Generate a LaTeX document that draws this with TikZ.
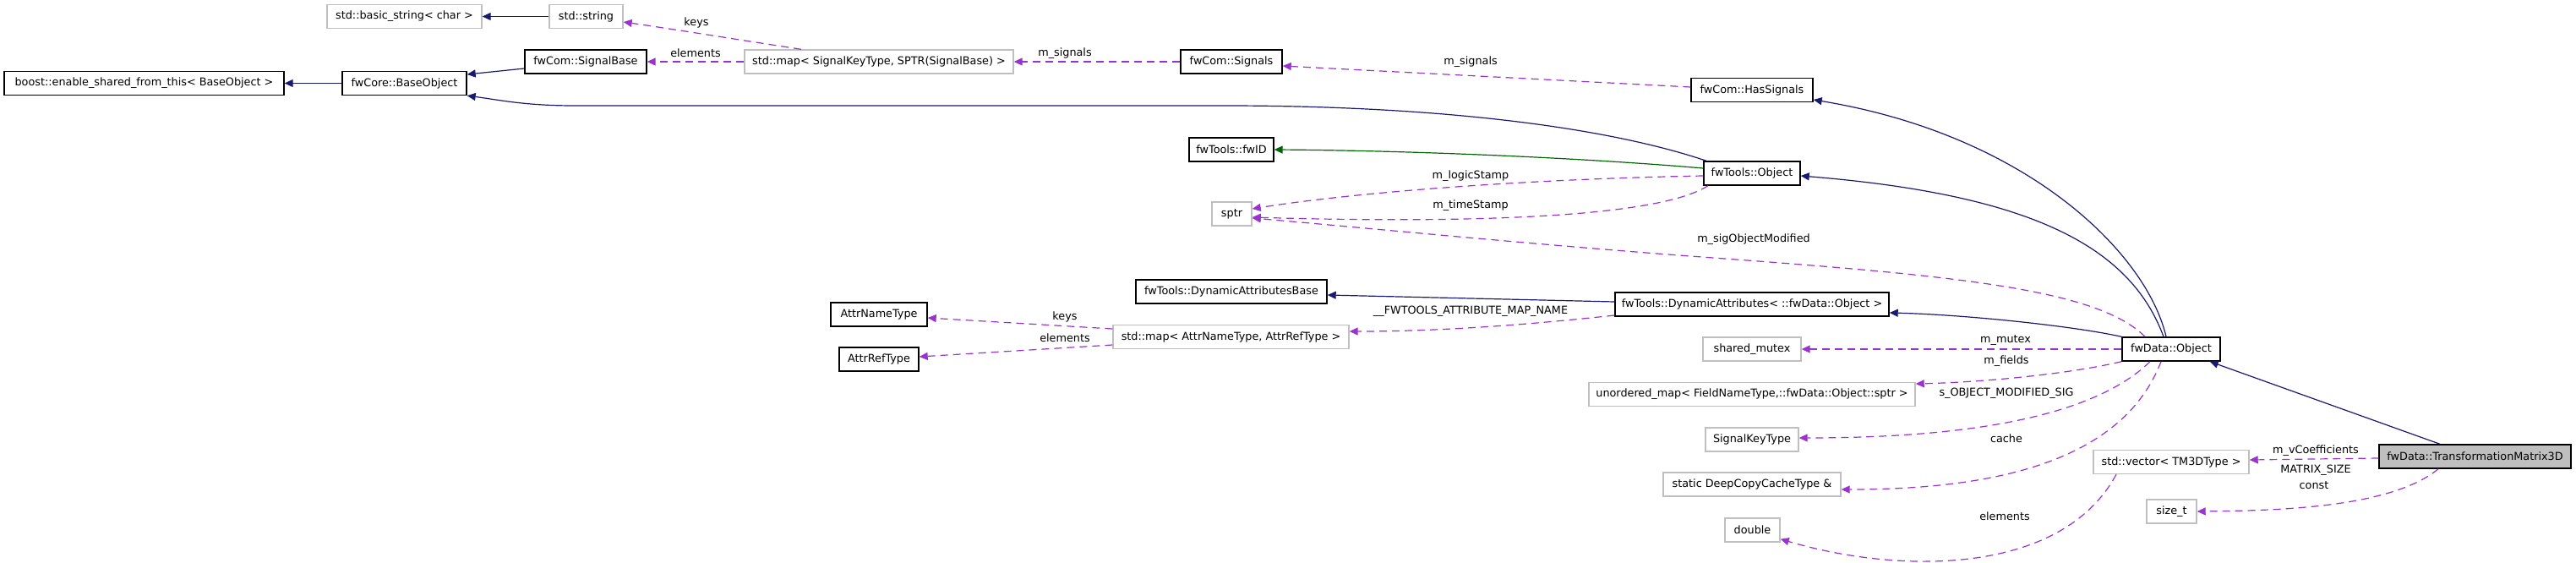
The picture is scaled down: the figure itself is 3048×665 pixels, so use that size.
\documentclass[tikz,border=0pt]{standalone}
\usepackage{fontspec}
\usetikzlibrary{arrows.meta}
\newfontfamily\dxsans{DejaVu Sans}
\newcommand\dxfont{\dxsans\fontsize{6.4}{7.5}\selectfont}
\definecolor{navy}{RGB}{25,25,112}
\definecolor{purp}{RGB}{154,50,205}
\definecolor{dgreen}{RGB}{0,100,0}
\definecolor{graybox}{RGB}{191,191,191}
\definecolor{tmgray}{RGB}{191,191,191}
\tikzset{
  nb/.style={draw=black, line width=0.7pt, fill=white, inner sep=0pt, minimum height=14pt, font=\dxfont},
  ng/.style={nb, draw=graybox},
  inh/.style={draw=navy, line width=0.6pt, -{Triangle[length=5pt,width=4.5pt]}},
  grn/.style={inh, draw=dgreen},
  use/.style={draw=purp, line width=0.6pt, dash pattern=on 4.5pt off 3pt, -{Triangle[length=5pt,width=4.5pt]}},
  lbl/.style={font=\dxfont, inner sep=0pt}
}
\begin{document}
\begin{tikzpicture}[x=0.5pt,y=-0.5pt]
\useasboundingbox (0,0) rectangle (3048,665);
% nodes
\node[ng, minimum width=91.5pt] (bstr) at (478.5,19.5) {std::basic\_string< char >};
\node[ng, minimum width=43.5pt] (str) at (693.5,19.5) {std::string};
\node[nb, minimum width=165.5pt] (boost) at (170.5,98.5) {boost::enable\_shared\_from\_this< BaseObject >};
\node[nb, minimum width=73.5pt] (baseobj) at (478.5,98.5) {fwCore::BaseObject};
\node[nb, minimum width=72pt] (sigbase) at (693,73) {fwCom::SignalBase};
\node[ng, minimum width=159pt] (mapsig) at (1040,73) {std::map< SignalKeyType, SPTR(SignalBase) >};
\node[nb, minimum width=60pt] (signals) at (1457,73) {fwCom::Signals};
\node[nb, minimum width=72pt] (hassig) at (2073,106.5) {fwCom::HasSignals};
\node[nb, minimum width=50pt] (fwid) at (1457,177) {fwTools::fwID};
\node[nb, minimum width=57pt] (object) at (2073,205) {fwTools::Object};
\node[ng, minimum width=23.5pt] (sptr) at (1457.5,253) {sptr};
\node[nb, minimum width=113pt] (dab) at (1457,345) {fwTools::DynamicAttributesBase};
\node[nb, minimum width=162pt] (da) at (2073,360) {fwTools::DynamicAttributes< ::fwData::Object >};
\node[nb, minimum width=57pt] (attrname) at (1040,372) {AttrNameType};
\node[nb, minimum width=47pt] (attrref) at (1040,425) {AttrRefType};
\node[ng, minimum width=139.5pt] (mapattr) at (1456.5,398.5) {std::map< AttrNameType, AttrRefType >};
\node[nb, minimum width=58pt] (fwdobj) at (2569,413) {fwData::Object};
\node[ng, minimum width=58pt] (smutex) at (2073,413) {shared\_mutex};
\node[ng, minimum width=193pt] (umap) at (2073,466.5) {unordered\_map< FieldNameType,::fwData::Object::sptr >};
\node[ng, minimum width=55pt] (sigkey) at (2073,520) {SignalKeyType};
\node[ng, minimum width=105pt] (dcc) at (2073,573) {static DeepCopyCacheType \&};
\node[ng, minimum width=32.5pt] (dbl) at (2073.5,627) {double};
\node[ng, minimum width=92pt] (vec) at (2569,546.5) {std::vector< TM3DType >};
\node[ng, minimum width=29.5pt] (sizet) at (2569.5,605) {size\_t};
\node[nb, fill=tmgray, minimum width=113.5pt] (tm3d) at (2928.5,540) {fwData::TransformationMatrix3D};
% inheritance
\draw[inh] (str) -- (bstr);
\draw[inh] (baseobj) -- (boost);
\draw[inh] ([yshift=-4pt]sigbase.west) -- ([yshift=5.25pt]baseobj.east);
\draw[inh] ([xshift=-27pt]object.north) .. controls (1900,150) and (1700,125) .. (1450,125) -- (680,125) .. controls (620,125) and (590,118) .. (baseobj.south east);
\draw[inh] ([xshift=-3pt]fwdobj.north) .. controls (2540,300) and (2400,160) .. ([yshift=-5.75pt]hassig.east);
\draw[inh] ([xshift=-4.5pt]fwdobj.north) .. controls (2520,290) and (2400,230) .. ([yshift=-1.5pt]object.east);
\draw[inh] (fwdobj.north west) .. controls (2450,385) and (2320,372) .. ([yshift=-5pt]da.east);
\draw[inh] ([yshift=1.5pt]da.west) -- ([yshift=-2pt]dab.east);
\draw[grn] ([yshift=3pt]object.west) .. controls (1850,185) and (1650,178) .. (fwid.east);
\draw[inh] ([xshift=-20.75pt]tm3d.north) -- ([xshift=-6.5pt]fwdobj.south east);
% usage
\draw[use] ([xshift=-46pt]mapsig.north) .. controls (880,48) and (800,35) .. ([yshift=-3.25pt]str.east);
\node[lbl] (lkeys1) at (824,27) {keys};
\draw[use] (mapsig) -- (sigbase);
\node[lbl] (lelem1) at (823,63) {elements};
\draw[use] (signals) -- (mapsig);
\node[lbl] (lsig1) at (1260,63) {m\_signals};
\draw[use] ([yshift=1.75pt]hassig.west) -- ([yshift=-2.5pt]signals.east);
\node[lbl] (lsig2) at (1740,73) {m\_signals};
\draw[use] ([yshift=-1.5pt]object.west) .. controls (1800,212) and (1600,228) .. ([yshift=3pt]sptr.east);
\node[lbl] (llogic) at (1740,208) {m\_logicStamp};
\draw[use] ([xshift=-26pt]object.south) .. controls (1950,265) and (1650,262) .. ([yshift=-2pt]sptr.east);
\node[lbl] (ltime) at (1740,243) {m\_timeStamp};
\draw[use] ([xshift=-15.5pt]fwdobj.north) .. controls (2480,340) and (2300,325) .. (2000,303) .. controls (1800,288) and (1600,268) .. ([yshift=-2.5pt]sptr.east);
\node[lbl] (lsigmod) at (2075,283) {m\_sigObjectModified};
\draw[use] ([yshift=-6.5pt]da.west) .. controls (1800,385) and (1700,392) .. ([yshift=3.25pt]mapattr.east);
\node[lbl] (lmapname) at (1740,368) {\_\_FWTOOLS\_ATTRIBUTE\_MAP\_NAME};
\draw[use] ([yshift=4.75pt]mapattr.west) -- ([yshift=-2pt]attrname.east);
\node[lbl] (lkeys2) at (1260,375) {keys};
\draw[use] ([yshift=-4.75pt]mapattr.west) -- ([yshift=1.5pt]attrref.east);
\node[lbl] (lelem2) at (1260,400) {elements};
\draw[use] (fwdobj) -- (smutex);
\node[lbl] (lmutex) at (2373,403) {m\_mutex};
\draw[use] (fwdobj.south west) .. controls (2450,442) and (2350,452) .. ([yshift=6.25pt]umap.east);
\node[lbl] (lfields) at (2374,427) {m\_fields};
\draw[use] ([xshift=-12.5pt]fwdobj.south) .. controls (2470,500) and (2300,518) .. ([yshift=1pt]sigkey.east);
\node[lbl] (lsosig) at (2374,465) {s\_OBJECT\_MODIFIED\_SIG};
\draw[use] ([xshift=-6pt]fwdobj.south) .. controls (2510,550) and (2350,579) .. ([yshift=-3pt]dcc.east);
\node[lbl] (lcache) at (2374,519) {cache};
\draw[use] ([yshift=-1pt]tm3d.west) -- ([yshift=1.25pt]vec.east);
\node[lbl] (lcoef) at (2740,533) {m\_vCoefficients};
\draw[use] ([xshift=-21.75pt]tm3d.south) .. controls (2830,600) and (2700,604) .. (sizet.east);
\node[lbl] (lmsize) at (2740,556) {MATRIX\_SIZE};
\node[lbl] (lconst) at (2738,574) {const};
\draw[use] ([xshift=-32.5pt]vec.south) .. controls (2440,680) and (2250,680) .. ([yshift=2pt]dbl.south east);
\node[lbl] (lelem3) at (2372,611) {elements};
\end{tikzpicture}
\end{document}
